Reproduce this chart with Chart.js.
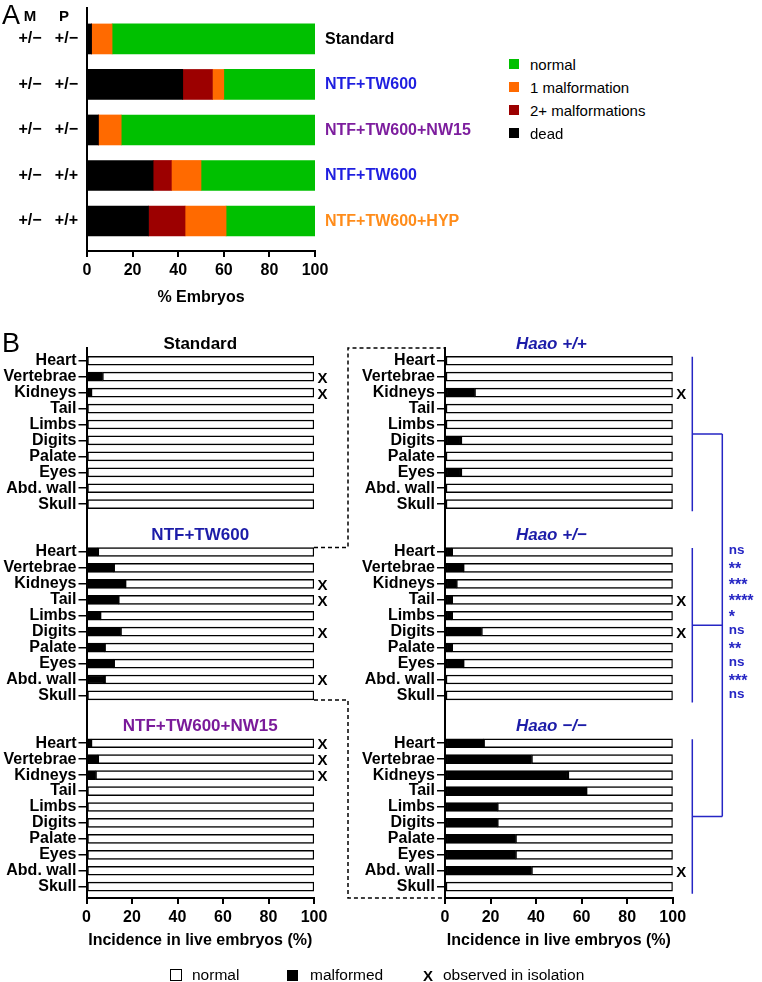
<!DOCTYPE html>
<html><head><meta charset="utf-8">
<script src="https://cdn.jsdelivr.net/npm/chart.js@4.4.0/dist/chart.umd.min.js"></script>
<style>
body{margin:0;background:#fff;width:762px;height:982px;position:relative;overflow:hidden;font-family:"Liberation Sans",Arial,sans-serif;}
canvas{position:absolute;}
.t{position:absolute;white-space:nowrap;line-height:1;}
.box{position:absolute;box-sizing:border-box;}
</style></head><body>
<canvas id="cA" width="330" height="310" style="left:0;top:0"></canvas>
<canvas id="cL" width="340" height="642" style="left:0;top:340px"></canvas>
<canvas id="cR" width="462" height="642" style="left:300px;top:340px"></canvas>
<script>
// ---------------- DATA ----------------
// Panel A
const genotypeM = ['+/−','+/−','+/−','+/−','+/−'];
const genotypeP = ['+/−','+/−','+/−','+/+','+/+'];
const conditionsA = ['Standard','NTF+TW600','NTF+TW600+NW15','NTF+TW600','NTF+TW600+HYP'];
const dead       = [2, 42, 5, 29, 27];
const twoPlusMal = [0, 13, 0, 8, 16];
const oneMal     = [9, 5, 10, 13, 18];
const normalA    = [89, 40, 85, 50, 39];
const seriesNamesA = ['dead','2+ malformations','1 malformation','normal'];
const xTicks = [0, 20, 40, 60, 80, 100];

// Panel B
const organs = ['Heart','Vertebrae','Kidneys','Tail','Limbs','Digits','Palate','Eyes','Abd. wall','Skull'];
const leftGroups  = ['Standard','NTF+TW600','NTF+TW600+NW15'];
const rightGroups = ['Haao +/+','Haao +/−','Haao −/−'];
const malStandard = [0, 7, 2, 0, 0, 0, 0, 0, 0, 0];
const malNTF      = [5, 12, 17, 14, 6, 15, 8, 12, 8, 0];
const malNW15     = [2, 5, 4, 0, 0, 0, 0, 0, 0, 0];
const malHaaoWT   = [0, 0, 13, 0, 0, 7, 0, 7, 0, 0];
const malHaaoHet  = [3, 8, 5, 3, 3, 16, 3, 8, 0, 0];
const malHaaoKO   = [17, 38, 54, 62, 23, 23, 31, 31, 38, 0];
const isoStandard = ['Vertebrae','Kidneys'];
const isoNTF      = ['Kidneys','Tail','Digits','Abd. wall'];
const isoNW15     = ['Heart','Vertebrae','Kidneys'];
const isoHaaoWT   = ['Kidneys'];
const isoHaaoHet  = ['Tail','Digits'];
const isoHaaoKO   = ['Abd. wall'];
const significance = ['ns','**','***','****','*','ns','**','ns','***','ns'];

// ---------------- STYLE ----------------
const FONT = '"Liberation Sans", Arial, sans-serif';
Chart.defaults.font.family = FONT;
Chart.defaults.color = '#000';
const colorsA = ['#000000','#9c0000','#ff6a00','#00c000'];
const condColorsA = ['#000000','#1f1fe0','#7d1e9e','#1f1fe0','#ff8c1a'];
const leftTitleColors = ['#000000','#1c1ca8','#7a1a9a'];
const rightTitleColor = '#1c1ca8';
const bracketColor = '#2626c4';

function addText(txt, x, y, o){
  o = o || {};
  const d = document.createElement('div');
  d.className = 't';
  d.textContent = txt;
  const tr = o.align === 'center' ? 'translate(-50%,-50%)' : (o.align === 'right' ? 'translate(-100%,-50%)' : 'translate(0,-50%)');
  Object.assign(d.style, {left: x + 'px', top: y + 'px', fontSize: (o.size || 16) + 'px',
    fontWeight: o.bold ? 'bold' : 'normal', fontStyle: o.italic ? 'italic' : 'normal',
    color: o.color || '#000', transform: tr});
  document.body.appendChild(d);
}
function addBox(x, y, w, h, fill, border){
  const d = document.createElement('div');
  d.className = 'box';
  Object.assign(d.style, {left: x + 'px', top: (y - h / 2) + 'px', width: w + 'px', height: h + 'px',
    background: fill, border: border || 'none'});
  document.body.appendChild(d);
}
const fixW = w => s => { s.width = w; s.paddingTop = 0; s.paddingBottom = 0; };
const fixH = h => s => { s.height = h; s.paddingLeft = 0; s.paddingRight = 0; };

// ---------------- PANEL A ----------------
const rowsA = conditionsA.map((_, i) => i);
const ptsA = arr => arr.map((v, i) => ({x: v, y: i}));
const seriesA = [dead, twoPlusMal, oneMal, normalA];
const chartA = new Chart(document.getElementById('cA'), {
  type: 'bar',
  data: {datasets: seriesA.map((arr, k) => ({label: seriesNamesA[k], data: ptsA(arr),
    backgroundColor: colorsA[k], borderWidth: 0, barThickness: 30, stack: 'a'}))},
  options: {
    indexAxis: 'y', responsive: false, animation: false,
    layout: {padding: {top: 8, right: 15, left: 0, bottom: 0}, autoPadding: false},
    plugins: {legend: {display: false}, tooltip: {enabled: false}},
    scales: {
      x: {type: 'linear', stacked: true, min: 0, max: 100, offset: false, afterFit: fixH(59),
        afterBuildTicks: s => { s.ticks = xTicks.map(v => ({value: v})); },
        ticks: {font: {size: 16, weight: 'bold'}, color: '#000', padding: 4.4, maxRotation: 0, autoSkip: false},
        grid: {display: true, offset: false, drawOnChartArea: false, drawTicks: true, tickLength: 6, color: '#000', lineWidth: 2},
        border: {display: true, color: '#000', width: 2},
        title: {display: true, text: '% Embryos', font: {size: 16, weight: 'bold'}, color: '#000', padding: {top: 0, bottom: 2.4}}},
      y: {type: 'linear', reverse: true, min: -0.68, max: 4.66, offset: false, afterFit: fixW(87),
        afterBuildTicks: s => { s.ticks = rowsA.map(v => ({value: v})); },
        ticks: {callback: v => genotypeM[v] + '   ' + genotypeP[v], font: {size: 16, weight: 'bold'}, color: '#000', padding: 9, autoSkip: false},
        grid: {display: false, drawTicks: false, tickLength: 0, offset: false}, border: {display: true, color: '#000', width: 2}}
    }
  }
});

// ---------------- PANEL B ----------------
const GAP = 2;
const posOf = (g, r) => g * (organs.length + GAP) + r;
const rowPositions = [];
const posLabel = {};
for (let g = 0; g < 3; g++) organs.forEach((o, r) => { rowPositions.push(posOf(g, r)); posLabel[posOf(g, r)] = o; });

function bDatasets(groups){
  const mal = [], nor = [];
  groups.forEach((arr, g) => arr.forEach((v, r) => {
    mal.push({x: v, y: posOf(g, r)});
    nor.push({x: 100 - v, y: posOf(g, r)});
  }));
  return [
    {label: 'malformed', data: mal, backgroundColor: '#000', borderColor: '#000', borderWidth: 1.5, borderSkipped: false, barThickness: 9, stack: 's'},
    {label: 'normal', data: nor, backgroundColor: '#fff', borderColor: '#000', borderWidth: 1.5, borderSkipped: false, barThickness: 9, stack: 's'}
  ];
}
const yMin = -0.8, yMax = posOf(2, organs.length - 1) + 0.71;
function bOptions(yWidth, padRight){
  return {
    indexAxis: 'y', responsive: false, animation: false,
    layout: {padding: {top: 8, right: padRight, left: 0, bottom: 0}, autoPadding: false},
    plugins: {legend: {display: false}, tooltip: {enabled: false}},
    scales: {
      x: {type: 'linear', stacked: true, min: 0, max: 100, offset: false, afterFit: fixH(84),
        afterBuildTicks: s => { s.ticks = xTicks.map(v => ({value: v})); },
        ticks: {font: {size: 16, weight: 'bold'}, color: '#000', padding: 4.4, maxRotation: 0, autoSkip: false},
        grid: {display: true, offset: false, drawOnChartArea: false, drawTicks: true, tickLength: 6, color: '#000', lineWidth: 2},
        border: {display: true, color: '#000', width: 2},
        title: {display: true, text: 'Incidence in live embryos (%)', font: {size: 16, weight: 'bold'}, color: '#000', padding: {top: 0, bottom: 31.4}}},
      y: {type: 'linear', reverse: true, min: yMin, max: yMax, offset: false, afterFit: fixW(yWidth),
        afterBuildTicks: s => { s.ticks = rowPositions.map(v => ({value: v})); },
        ticks: {callback: v => posLabel[v], font: {size: 16, weight: 'bold'}, color: '#000', padding: 2, autoSkip: false},
        grid: {display: true, offset: false, drawOnChartArea: false, drawTicks: true, tickLength: 8, color: '#000', lineWidth: 1.5},
        border: {display: true, color: '#000', width: 2}}
    }
  };
}

const L_OFF = {x: 0, y: 340}, R_OFF = {x: 300, y: 340};
const leftChart = new Chart(document.getElementById('cL'), {
  type: 'bar',
  data: {datasets: bDatasets([malStandard, malNTF, malNW15])},
  options: bOptions(86.5, 26)
});

const connectorPlugin = {
  id: 'connectors',
  afterDraw(chart){
    const {ctx, chartArea: ca, scales: {x, y}} = chart;
    const half = 4.5;
    const leftEnd = leftChart.scales.x.getPixelForValue(100) + L_OFF.x - R_OFF.x;
    const xJoin = ca.left - 97;
    ctx.save();
    ctx.strokeStyle = '#000'; ctx.lineWidth = 1.5; ctx.setLineDash([4, 3]);
    ctx.beginPath();
    const yA = y.getPixelForValue(posOf(1, 0)) - half;
    ctx.moveTo(leftEnd, yA); ctx.lineTo(xJoin, yA); ctx.lineTo(xJoin, ca.top); ctx.lineTo(ca.left, ca.top);
    const yB = y.getPixelForValue(posOf(1, organs.length - 1)) + half;
    ctx.moveTo(leftEnd, yB); ctx.lineTo(xJoin, yB); ctx.lineTo(xJoin, ca.bottom); ctx.lineTo(ca.left, ca.bottom);
    ctx.stroke();
    ctx.setLineDash([]);
    ctx.strokeStyle = bracketColor; ctx.lineWidth = 1.5;
    const x1 = x.getPixelForValue(100) + 19.6, x2 = x1 + 30;
    const mids = [];
    ctx.beginPath();
    for (let g = 0; g < 3; g++){
      const p0 = y.getPixelForValue(posOf(g, 0)), p9 = y.getPixelForValue(posOf(g, organs.length - 1));
      const mid = (p0 + p9) / 2 + 1.5;
      ctx.moveTo(x1, p0 - 4); ctx.lineTo(x1, p9 + 7);
      ctx.moveTo(x1, mid); ctx.lineTo(x2, mid);
      mids.push(mid);
    }
    ctx.moveTo(x2, mids[0]); ctx.lineTo(x2, mids[2]);
    ctx.stroke();
    ctx.restore();
  }
};

const rightChart = new Chart(document.getElementById('cR'), {
  type: 'bar',
  data: {datasets: bDatasets([malHaaoWT, malHaaoHet, malHaaoKO])},
  options: bOptions(145, 89.3),
  plugins: [connectorPlugin]
});

// ---------------- TEXT OVERLAYS ----------------
// Panel A
addText('A', 2, 15, {size: 27});
addText('M', 30, 15, {size: 15, bold: true, align: 'center'});
addText('P', 64, 15, {size: 15, bold: true, align: 'center'});
const axA = chartA.scales.x, ayA = chartA.scales.y;
conditionsA.forEach((c, i) => {
  addText(c, axA.getPixelForValue(100) + 10, ayA.getPixelForValue(i), {size: 16, bold: true, color: condColorsA[i]});
});
const legendOrder = [3, 2, 1, 0];
legendOrder.forEach((k, j) => {
  const yy = 64 + j * 23;
  addBox(509, yy, 10, 10, colorsA[k]);
  addText(seriesNamesA[k], 530, yy, {size: 15});
});

// Panel B
addText('B', 2, 343, {size: 27});
function bAnnotations(chart, off, titles, titleColors, isos, titleShift, italic){
  const x = chart.scales.x, y = chart.scales.y;
  const cx = (x.getPixelForValue(0) + x.getPixelForValue(100)) / 2 + off.x + titleShift;
  titles.forEach((t, g) => {
    const ty = y.getPixelForValue(posOf(g, 0) - 1.13) + off.y;
    addText(t, cx, ty, {size: 17, bold: true, italic: italic, color: titleColors[g], align: 'center'});
    isos[g].forEach(o => {
      const r = organs.indexOf(o);
      addText('X', x.getPixelForValue(100) + off.x + 8.5, y.getPixelForValue(posOf(g, r)) + off.y, {size: 15, bold: true, align: 'center'});
    });
  });
}
bAnnotations(leftChart, L_OFF, leftGroups, leftTitleColors, [isoStandard, isoNTF, isoNW15], 0, false);
bAnnotations(rightChart, R_OFF, rightGroups, [rightTitleColor, rightTitleColor, rightTitleColor], [isoHaaoWT, isoHaaoHet, isoHaaoKO], -7.5, true);

const rx = rightChart.scales.x, ry = rightChart.scales.y;
significance.forEach((s, r) => {
  const isStar = s.indexOf('*') >= 0;
  addText(s, rx.getPixelForValue(100) + R_OFF.x + 56, ry.getPixelForValue(posOf(1, r)) + R_OFF.y + (isStar ? 1.5 : -1.5),
    {size: isStar ? 16 : 13.5, bold: true, color: bracketColor});
});

// Bottom legend
addBox(170, 975, 12, 12, '#fff', '1.5px solid #000');
addText('normal', 192, 975, {size: 15.5});
addBox(287, 975, 11, 11, '#000');
addText('malformed', 310, 975, {size: 15.5});
addText('X', 423, 975, {size: 15, bold: true});
addText('observed in isolation', 443, 975, {size: 15.5});
</script>
</body></html>
